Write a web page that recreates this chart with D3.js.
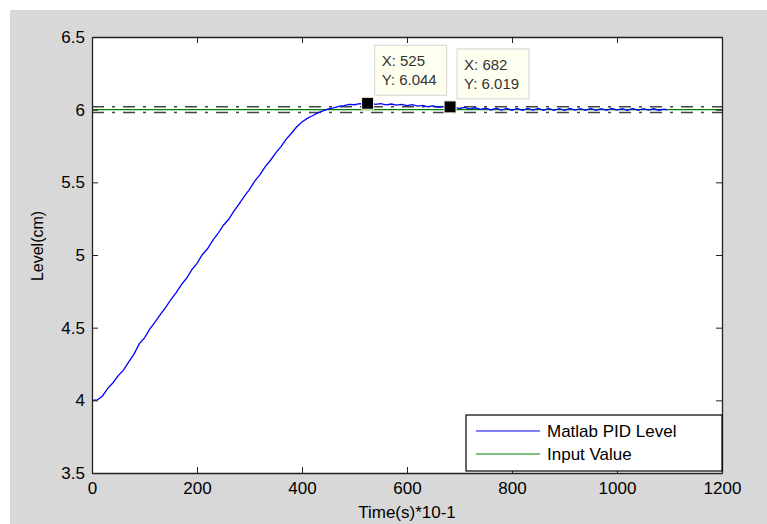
<!DOCTYPE html>
<html>
  <head>
    <title>PID level</title>
    <script src="https://d3js.org/d3.v7.min.js"></script>
    <style type="text/css">
      body { margin: 0; background: #fff; }
      text { font-family: Arial, "Liberation Sans", sans-serif; }
    </style>
  </head>
  <body>
    <div id="chart"></div>
    <script>

      // sample times (s*10^-1) and measured level (cm)
      var time = [0, 10, 20, 30, 40, 50, 60, 70, 80, 90,
        100, 110, 120, 130, 140, 150, 160, 170, 180, 190,
        200, 210, 220, 230, 240, 250, 260, 270, 280, 290,
        300, 310, 320, 330, 340, 350, 360, 370, 380, 390,
        400, 410, 420, 430, 440, 450, 460, 470, 480, 490,
        500, 510, 520, 530, 540, 550, 560, 570, 580, 590,
        600, 610, 620, 630, 640, 650, 660, 670, 680, 690,
        700, 710, 720, 730, 740, 750, 760, 770, 780, 790,
        800, 810, 820, 830, 840, 850, 860, 870, 880, 890,
        900, 910, 920, 930, 940, 950, 960, 970, 980, 990,
        1000, 1010, 1020, 1030, 1040, 1050, 1060, 1070, 1080, 1090, 1095]
      var level = [4.000, 4.003, 4.030, 4.082, 4.121, 4.170, 4.208, 4.265, 4.318, 4.388,
        4.430, 4.490, 4.538, 4.590, 4.638, 4.692, 4.740, 4.795, 4.840, 4.897,
        4.943, 5.002, 5.043, 5.100, 5.148, 5.203, 5.244, 5.300, 5.350, 5.404,
        5.452, 5.508, 5.553, 5.608, 5.652, 5.703, 5.746, 5.797, 5.838, 5.882,
        5.915, 5.940, 5.958, 5.978, 5.992, 6.006, 6.013, 6.022, 6.028, 6.037,
        6.034, 6.042, 6.038, 6.046, 6.036, 6.041, 6.033, 6.039, 6.031, 6.036,
        6.028, 6.034, 6.025, 6.029, 6.020, 6.026, 6.016, 6.022, 6.014, 6.018,
        6.008, 6.016, 6.004, 6.013, 6.002, 6.011, 5.998, 6.010, 5.997, 6.009,
        5.996, 6.008, 5.996, 6.009, 5.997, 6.008, 5.995, 6.009, 5.996, 6.007,
        5.996, 6.008, 5.997, 6.007, 5.995, 6.008, 5.996, 6.007, 5.996, 6.008,
        5.997, 6.007, 5.995, 6.008, 5.996, 6.007, 5.997, 6.006, 5.996, 6.004, 5.999]

      var setpoint = 6
      var bandHigh = 6.02
      var bandLow = 5.98

      // data tips
      var tipX = [525, 682]
      var tipY = [6.044, 6.019]

      var xTicks = [0, 200, 400, 600, 800, 1000, 1200]
      var yTicks = [3.5, 4, 4.5, 5, 5.5, 6, 6.5]

      var legendNames = ["Matlab PID Level", "Input Value"]
      var legendColors = ["#0000ff", "#008000"]

      var width = 767, height = 524
      // plot box (named so they don't clash with window.top)
      var plotL = 92, plotR = 722, plotT = 37, plotB = 473

      var svg = d3.select("#chart")
        .append("svg")
          .attr("width", width)
          .attr("height", height)

      // grey figure background
      svg.append("rect")
        .attr("x", 10).attr("y", 10)
        .attr("width", width - 10).attr("height", height - 10)
        .attr("fill", "#d8d8d8")

      svg.append("rect")
        .attr("x", plotL).attr("y", plotT)
        .attr("width", plotR - plotL).attr("height", plotB - plotT)
        .attr("fill", "#fff")

      var x = d3.scaleLinear().domain([0, 1200]).range([plotL, plotR])
      var y = d3.scaleLinear().domain([3.5, 6.5]).range([plotB, plotT])

      // tolerance band lines (dash-dot)
      svg.selectAll("line.band")
        .data([bandHigh, bandLow])
        .enter()
        .append("line")
          .attr("class", "band")
          .attr("x1", x(0)).attr("x2", x(1200))
          .attr("y1", function(d) { return y(d) })
          .attr("y2", function(d) { return y(d) })
          .attr("stroke", "#444")
          .attr("stroke-width", 1.6)
          .attr("stroke-dasharray", "12,8,3,8")

      // input value
      svg.append("line")
        .attr("x1", x(0)).attr("x2", x(1200))
        .attr("y1", y(setpoint)).attr("y2", y(setpoint))
        .attr("stroke", "#008000")
        .attr("stroke-width", 1.2)

      // level curve
      var line = d3.line()
        .x(function(d) { return x(d[0]) })
        .y(function(d) { return y(d[1]) })

      svg.append("path")
        .datum(d3.zip(time, level))
        .attr("d", line)
        .attr("fill", "none")
        .attr("stroke", "#0000ff")
        .attr("stroke-width", 1.3)

      // axes, ticks pointing inward on all four sides
      var fmt = d3.format("~g")
      var gx = svg.append("g")
        .attr("transform", "translate(0," + plotB + ")")
        .call(d3.axisBottom(x).tickValues(xTicks).tickSize(-6).tickSizeOuter(0).tickPadding(9).tickFormat(fmt))
      var gy = svg.append("g")
        .attr("transform", "translate(" + plotL + ",0)")
        .call(d3.axisLeft(y).tickValues(yTicks).tickSize(-6).tickSizeOuter(0).tickPadding(7).tickFormat(fmt))
      var gt = svg.append("g")
        .attr("transform", "translate(0," + plotT + ")")
        .call(d3.axisTop(x).tickValues(xTicks).tickSize(-6).tickSizeOuter(0).tickFormat(""))
      var gr = svg.append("g")
        .attr("transform", "translate(" + plotR + ",0)")
        .call(d3.axisRight(y).tickValues(yTicks).tickSize(-6).tickSizeOuter(0).tickFormat(""))

      ;[gx, gy, gt, gr].forEach(function(g) {
        g.select(".domain").attr("stroke", "#222").attr("stroke-width", 1.3)
        g.selectAll(".tick line").attr("stroke", "#222")
        g.selectAll("text").attr("font-size", 17).attr("fill", "#000")
          .attr("font-family", "Arial, 'Liberation Sans', sans-serif")
      })

      // axis labels
      svg.append("text")
        .attr("x", (plotL + plotR) / 2).attr("y", 518)
        .attr("text-anchor", "middle")
        .attr("font-size", 17)
        .text("Time(s)*10-1")

      svg.append("text")
        .attr("transform", "translate(43,246) rotate(-90)")
        .attr("text-anchor", "middle")
        .attr("font-size", 16)
        .text("Level(cm)")

      // data tip markers and boxes
      var tips = svg.selectAll("g.tip")
        .data(d3.zip(tipX, tipY))
        .enter()
        .append("g")
          .attr("class", "tip")

      tips.append("rect")
        .attr("x", function(d) { return x(d[0]) + 7 })
        .attr("y", function(d) { return y(d[1]) - 58 })
        .attr("width", 72).attr("height", 50)
        .attr("fill", "#fffff0")
        .attr("stroke", "#d4d4d4")

      tips.append("rect")
        .attr("x", function(d) { return x(d[0]) - 6 })
        .attr("y", function(d) { return y(d[1]) - 6 })
        .attr("width", 12).attr("height", 12)
        .attr("fill", "#000")
        .attr("stroke", "#fffbe0")
        .attr("stroke-width", 1)

      tips.append("text")
        .attr("x", function(d) { return x(d[0]) + 14 })
        .attr("y", function(d) { return y(d[1]) - 37 })
        .attr("font-size", 15)
        .attr("fill", "#333")
        .text(function(d) { return "X: " + d[0] })

      tips.append("text")
        .attr("x", function(d) { return x(d[0]) + 14 })
        .attr("y", function(d) { return y(d[1]) - 18 })
        .attr("font-size", 15)
        .attr("fill", "#333")
        .text(function(d) { return "Y: " + d3.format(".3f")(d[1]) })

      // legend
      var lg = svg.append("g")
      lg.append("rect")
        .attr("x", 466).attr("y", 415)
        .attr("width", 256).attr("height", 56)
        .attr("fill", "#fff")
        .attr("stroke", "#000")
        .attr("stroke-width", 1.2)

      legendNames.forEach(function(name, i) {
        var ly = 431 + i * 23
        lg.append("line")
          .attr("x1", 476).attr("x2", 540)
          .attr("y1", ly).attr("y2", ly)
          .attr("stroke", legendColors[i])
          .attr("stroke-width", 1.2)
        lg.append("text")
          .attr("x", 547).attr("y", ly)
          .attr("dy", "0.35em")
          .attr("font-size", 17)
          .text(name)
      })

    </script>
  </body>
</html>
